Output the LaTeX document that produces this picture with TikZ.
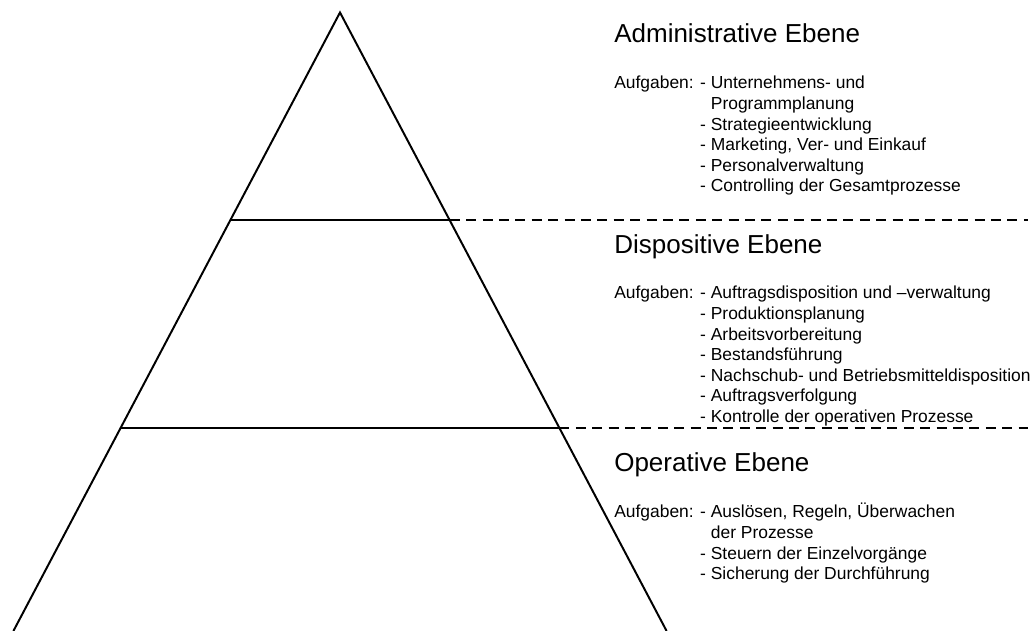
\documentclass[tikz,border=0pt]{standalone}
\usepackage{fontspec}
\setmainfont{Liberation Sans}
\usetikzlibrary{calc}
\begin{document}
\begin{tikzpicture}[x=0.25cm,y=0.25cm,
	level/.style={line width=1.4pt},
	guide/.style={line width=1.4pt, dash pattern=on 0.25cm off 0.16cm},
	title/.style={anchor=base west, inner sep=0pt, font=\fontsize{18.5}{22}\selectfont},
	tasks/.style={anchor=base west, inner sep=0pt, font=\fontsize{12.4}{14.6}\selectfont}]
	\useasboundingbox (0,0) rectangle (103.5,63.1);
	\coordinate (apex) at (34,61.85);
	\coordinate (bl) at (1.34,0);
	\coordinate (br) at (66.66,0);
	\coordinate (edge) at (102.8,0);
	\draw [level] (bl) -- (apex) -- (br);
	\coordinate (l1) at ($(apex)!0.336!(bl)$);
	\coordinate (r1) at ($(apex)!0.336!(br)$);
	\coordinate (l2) at ($(apex)!0.672!(bl)$);
	\coordinate (r2) at ($(apex)!0.672!(br)$);
	\draw [level] (l1) -- (r1);
	\draw [level] (l2) -- (r2);
	\draw [guide] (r1) -- (r1 -| edge);
	\draw [guide] (r2) -- (r2 -| edge);
	\node [title] (adm) at (61.4,58.8) {Administrative Ebene};
	\node [tasks] (admtasks) at (61.4,54.2) {\begin{tabular}[t]{@{}l@{ }l@{}}
		Aufgaben: & - Unternehmens- und\\
		& \hphantom{- }Programmplanung\\
		& - Strategieentwicklung\\
		& - Marketing, Ver- und Einkauf\\
		& - Personalverwaltung\\
		& - Controlling der Gesamtprozesse
	\end{tabular}};
	\node [title] (disp) at (61.4,37.7) {Dispositive Ebene};
	\node [tasks] (disptasks) at (61.4,33.2) {\begin{tabular}[t]{@{}l@{ }l@{}}
		Aufgaben: & - Auftragsdisposition und –verwaltung\\
		& - Produktionsplanung\\
		& - Arbeitsvorbereitung\\
		& - Bestandsführung\\
		& - Nachschub- und Betriebsmitteldisposition\\
		& - Auftragsverfolgung\\
		& - Kontrolle der operativen Prozesse
	\end{tabular}};
	\node [title] (oper) at (61.4,15.9) {Operative Ebene};
	\node [tasks] (opertasks) at (61.4,11.3) {\begin{tabular}[t]{@{}l@{ }l@{}}
		Aufgaben: & - Auslösen, Regeln, Überwachen\\
		& \hphantom{- }der Prozesse\\
		& - Steuern der Einzelvorgänge\\
		& - Sicherung der Durchführung
	\end{tabular}};
\end{tikzpicture}
\end{document}
